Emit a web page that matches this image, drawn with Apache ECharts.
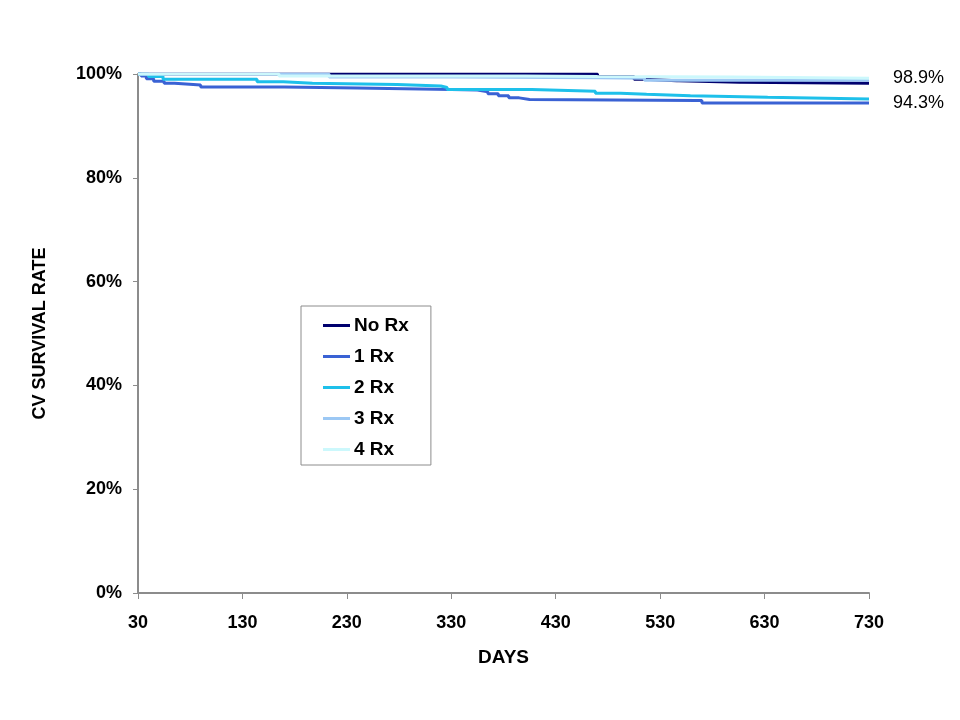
<!DOCTYPE html>
<html>
<head>
<meta charset="utf-8">
<script src="https://cdn.jsdelivr.net/npm/echarts@6/dist/echarts.min.js"></script>
<style>html,body{margin:0;padding:0;background:#fff}#c{width:960px;height:720px}</style>
</head>
<body>
<div id="c"></div>
<script>
var seriesNames = ['No Rx', '1 Rx', '2 Rx', '3 Rx', '4 Rx'];
var seriesColors = ['#00006e', '#3a62d4', '#1ec0ea', '#9cc8f4', '#ccf8fc'];
var endLabels = ['', '94.3%', '', '', '98.9%'];
var xTicks = [30, 130, 230, 330, 430, 530, 630, 730];
var yTicks = [0, 20, 40, 60, 80, 100];

// [day, survival %] step points
var noRx = [[30,100],[468,100],[470,99.5],[500,99.5],[505,99.0],[515,98.7],[546,98.7],[548,98.4],[606,98.4],[608,98.2],[730,98.2]];
var rx1 = [[30,100],[33,99.6],[38,99.1],[45,98.6],[55,98.2],[65,97.9],[90,97.5],[170,97.3],[240,97.0],[330,96.9],[355,96.6],[365,96.2],[375,95.8],[385,95.4],[395,95.1],[405,94.9],[565,94.9],[570,94.4],[730,94.4]];
var rx2 = [[30,100],[40,99.5],[54,99.0],[144,98.5],[169,98.2],[197,98.0],[278,97.7],[320,97.4],[326,97.0],[407,96.7],[468,96.3],[492,96.1],[517,95.8],[559,95.5],[633,95.2],[730,95.2]];
var rx3 = [[30,100],[211,100],[213,99.4],[330,99.3],[470,99.2],[515,98.8],[730,98.8]];
var rx4 = [[30,100],[163,100],[165,99.6],[400,99.5],[470,99.4],[600,99.2],[730,99.2]];
var allData = [noRx, rx1, rx2, rx3, rx4];

var FONT = 'Liberation Sans, Arial, sans-serif';
var chart = echarts.init(document.getElementById('c'));
var series = seriesNames.map(function (n, i) {
  return {
    name: n, type: 'line', step: 'end', data: allData[i], symbol: 'none',
    lineStyle: { color: seriesColors[i], width: 3 }, itemStyle: { color: seriesColors[i] },
    z: 2 + i, animation: false,
    endLabel: { show: !!endLabels[i], formatter: endLabels[i], color: '#000', fontFamily: FONT, fontSize: 18, distance: 24 }
  };
});
chart.setOption({
  animation: false,
  backgroundColor: '#fff',
  grid: { left: 138, right: 91, top: 74, bottom: 127 },
  legend: {
    data: seriesNames, orient: 'vertical', left: 301, top: 306,
    padding: [10, 22, 6, 22], itemGap: 12, itemWidth: 27, itemHeight: 3,
    borderColor: '#8c8c8c', borderWidth: 1, backgroundColor: '#fff',
    icon: 'rect',
    textStyle: { fontFamily: FONT, fontSize: 19, fontWeight: 'bold', color: '#000', padding: [0, 0, 0, -1] }
  },
  xAxis: {
    type: 'value', min: 30, max: 730, interval: 100,
    name: 'DAYS', nameLocation: 'middle', nameGap: 55,
    nameTextStyle: { fontFamily: FONT, fontSize: 19, fontWeight: 'bold', color: '#000' },
    axisLine: { lineStyle: { color: '#8c8c8c', width: 2 } },
    axisTick: { show: true, length: 6, lineStyle: { color: '#8c8c8c' } },
    axisLabel: { fontFamily: FONT, fontSize: 18, fontWeight: 'bold', color: '#000', margin: 21,
      formatter: function (v) { return xTicks.indexOf(v) >= 0 ? String(v) : ''; } },
    splitLine: { show: false }
  },
  yAxis: {
    type: 'value', min: 0, max: 100, interval: 20,
    name: 'CV SURVIVAL RATE', nameLocation: 'middle', nameGap: 89, nameRotate: 90,
    nameTextStyle: { fontFamily: FONT, fontSize: 18, fontWeight: 'bold', color: '#000' },
    axisLine: { show: true, lineStyle: { color: '#8c8c8c', width: 2 } },
    axisTick: { show: true, length: 5, lineStyle: { color: '#8c8c8c' } },
    axisLabel: { fontFamily: FONT, fontSize: 18, fontWeight: 'bold', color: '#000', margin: 16,
      formatter: function (v) { return yTicks.indexOf(v) >= 0 ? v + '%' : ''; } },
    splitLine: { show: false }
  },
  series: series
});
</script>
</body>
</html>
